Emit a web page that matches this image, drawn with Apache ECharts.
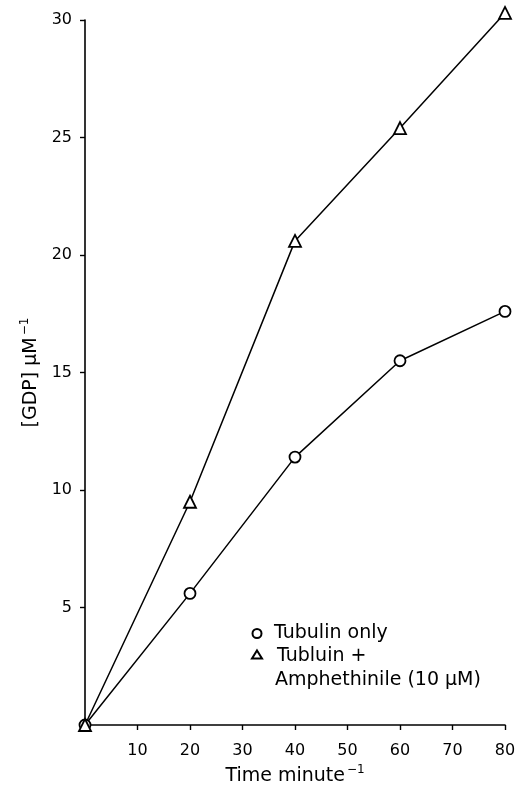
<!DOCTYPE html>
<html>
<head>
<meta charset="utf-8">
<script src="https://cdn.jsdelivr.net/npm/echarts@6/dist/echarts.min.js"></script>
<style>
  html, body { margin: 0; padding: 0; background: #fff; }
  #chart { width: 521px; height: 785px; }
</style>
</head>
<body>
<div id="chart"></div>
<script>
// time in minutes
var times = [0, 20, 40, 60, 80];
var tubulinOnly = [0, 5.6, 11.4, 15.5, 17.6];
var tubulinAmph = [0, 9.5, 20.6, 25.4, 30.3];

var xTicks = [10, 20, 30, 40, 50, 60, 70, 80];
var yTicks = [5, 10, 15, 20, 25, 30];

var font = 'DejaVu Sans';

function pairs(vals) {
  return times.map(function (t, i) { return [t, vals[i]]; });
}

var chart = echarts.init(document.getElementById('chart'));

var supStyle = { fontFamily: font, fontSize: 12, color: '#000', verticalAlign: 'top', padding: [0, 0, 12, 2] };

var option = {
  animation: false,
  backgroundColor: '#fff',
  grid: { left: 85, right: 16, top: 20, bottom: 60, outerBoundsMode: 'none', containLabel: false },
  xAxis: {
    type: 'value',
    min: 0,
    max: 80,
    interval: 10,
    name: '{n|Time minute}{s|\u22121}',
    nameLocation: 'middle',
    nameGap: 39,
    nameTextStyle: {
      rich: {
        n: { fontFamily: font, fontSize: 19, color: '#000' },
        s: supStyle
      }
    },
    axisLine: { lineStyle: { color: '#000', width: 1.6 } },
    axisTick: { show: true, length: 5, lineStyle: { color: '#000', width: 1.4 } },
    axisLabel: {
      fontFamily: font, fontSize: 16, color: '#000', margin: 18,
      formatter: function (v) { return xTicks.indexOf(v) >= 0 ? String(v) : ''; }
    },
    splitLine: { show: false }
  },
  yAxis: {
    type: 'value',
    min: 0,
    max: 30,
    interval: 5,
    name: '{n|[GDP] \u03bcM}{s|\u22121}',
    nameLocation: 'middle',
    nameGap: 38,
    nameRotate: 90,
    nameTextStyle: {
      rich: {
        n: { fontFamily: font, fontSize: 19, color: '#000' },
        s: supStyle
      }
    },
    axisLine: { show: true, lineStyle: { color: '#000', width: 1.6 } },
    axisTick: { show: true, length: 5, lineStyle: { color: '#000', width: 1.4 } },
    axisLabel: {
      fontFamily: font, fontSize: 16, color: '#000', margin: 13,
      formatter: function (v) { return yTicks.indexOf(v) >= 0 ? String(v) : ''; }
    },
    splitLine: { show: false }
  },
  series: [
    {
      name: 'Tubulin only',
      type: 'line',
      data: pairs(tubulinOnly),
      clip: false,
      symbol: 'circle',
      symbolSize: 11,
      lineStyle: { color: '#000', width: 1.5 },
      itemStyle: { color: '#fff', borderColor: '#000', borderWidth: 1.8 }
    },
    {
      name: 'Tubluin + Amphethinile (10 \u03bcM)',
      type: 'line',
      data: pairs(tubulinAmph),
      clip: false,
      symbol: 'triangle',
      symbolSize: 12,
      lineStyle: { color: '#000', width: 1.5 },
      itemStyle: { color: '#fff', borderColor: '#000', borderWidth: 1.8 }
    }
  ],
  graphic: [
    {
      type: 'group',
      left: 251,
      top: 624,
      children: [
        { type: 'circle', shape: { cx: 6, cy: 13, r: 4.5 }, style: { fill: '#fff', stroke: '#000', lineWidth: 2 } },
        { type: 'text', x: 23, y: 13, style: { text: 'Tubulin only', font: '19px "DejaVu Sans"', fill: '#000', verticalAlign: 'middle' } },
        { type: 'polygon', shape: { points: [[6, 30], [11, 38], [1, 38]] }, style: { fill: '#fff', stroke: '#000', lineWidth: 2 } },
        { type: 'text', x: 26, y: 36, style: { text: 'Tubluin +', font: '19px "DejaVu Sans"', fill: '#000', verticalAlign: 'middle' } },
        { type: 'text', x: 24, y: 60, style: { text: 'Amphethinile (10 \u03bcM)', font: '19px "DejaVu Sans"', fill: '#000', verticalAlign: 'middle' } }
      ]
    }
  ]
};

chart.setOption(option);
</script>
</body>
</html>
